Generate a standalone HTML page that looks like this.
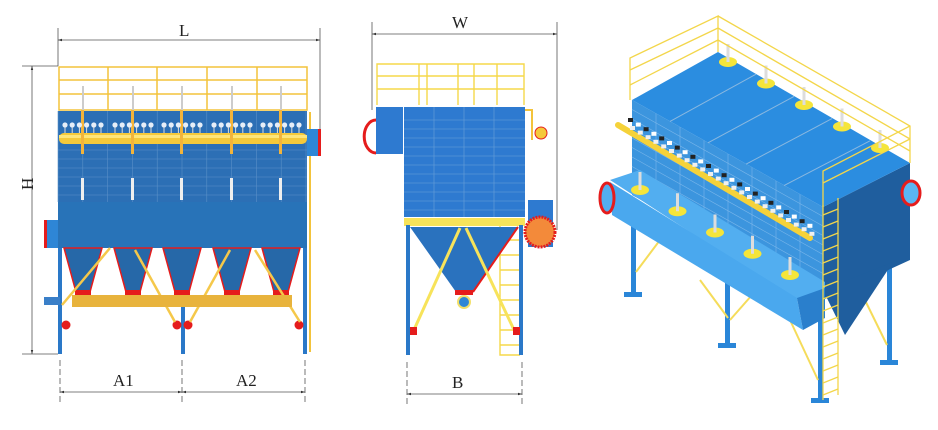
<!DOCTYPE html>
<html><head><meta charset="utf-8"><style>
html,body{margin:0;padding:0;background:#fff;width:938px;height:430px;overflow:hidden}
svg{display:block}
text{font-family:"Liberation Serif",serif;font-size:17px;fill:#222}
</style></head><body>
<svg id="s" width="938" height="430" viewBox="0 0 938 430" xmlns="http://www.w3.org/2000/svg">
<defs>
<marker id="ar" viewBox="0 0 10 10" refX="10" refY="5" markerWidth="8" markerHeight="5" orient="auto-start-reverse"><path d="M0,2 L10,5 L0,8 z" fill="#333"/></marker>
</defs>
<g stroke="#555" stroke-width="0.8" fill="none">
<line x1="58" y1="28" x2="58" y2="66"/><line x1="320" y1="28" x2="320" y2="150"/>
<line x1="58" y1="40" x2="320" y2="40" marker-start="url(#ar)" marker-end="url(#ar)"/>
<line x1="22" y1="66" x2="58" y2="66"/><line x1="22" y1="354" x2="58" y2="354"/>
<line x1="32" y1="66" x2="32" y2="354" marker-start="url(#ar)" marker-end="url(#ar)"/>
<line x1="60" y1="360" x2="60" y2="403" stroke-dasharray="6,3"/>
<line x1="182" y1="360" x2="182" y2="403" stroke-dasharray="6,3"/>
<line x1="305" y1="360" x2="305" y2="403" stroke-dasharray="6,3"/>
<line x1="60" y1="392" x2="182" y2="392" marker-start="url(#ar)" marker-end="url(#ar)"/>
<line x1="182" y1="392" x2="305" y2="392" marker-start="url(#ar)" marker-end="url(#ar)"/>
</g>
<text x="179" y="36">L</text>
<text x="27" y="196" transform="rotate(-90 27 190)">H</text>
<text x="113" y="386">A1</text>
<text x="236" y="386">A2</text>
<g fill="#2a78c8"><rect x="58" y="245" width="4" height="109"/><rect x="181" y="245" width="4" height="109"/><rect x="303" y="245" width="4" height="109"/></g>
<line x1="310" y1="112" x2="310" y2="352" stroke="#f3c33b" stroke-width="2"/>
<g stroke="#f3c33b" stroke-width="1.5" fill="none">
<rect x="59" y="67" width="248" height="43"/><line x1="59" y1="80" x2="307" y2="80"/><line x1="59" y1="94" x2="307" y2="94"/>
<line x1="108" y1="67" x2="108" y2="110"/><line x1="157" y1="67" x2="157" y2="110"/><line x1="207" y1="67" x2="207" y2="110"/><line x1="257" y1="67" x2="257" y2="110"/>
</g>
<rect x="58" y="111" width="249" height="91" fill="#2c6fb5"/>
<g stroke="#5a90c8" stroke-width="0.6" id="gl"></g>
<rect x="59" y="133" width="248" height="11" rx="5" fill="#f5c93a"/>
<rect x="59" y="135" width="248" height="3" fill="#fde57a"/>
<rect x="58" y="202" width="249" height="46" fill="#2873b8"/>
<rect x="46" y="220" width="12" height="28" fill="#2e86d6"/><rect x="44" y="220" width="3" height="28" fill="#e51c1c"/>
<rect x="307" y="129" width="12" height="27" fill="#2e86d6"/><rect x="318" y="129" width="3" height="27" fill="#e51c1c"/>
<g id="lv"></g>
<rect x="72" y="295" width="220" height="12" fill="#e8b33c"/>
<rect x="44" y="297" width="16" height="8" fill="#3a7fc8"/>
<g stroke="#555" stroke-width="0.8" fill="none">
<line x1="372" y1="22" x2="372" y2="110"/><line x1="557" y1="22" x2="557" y2="230"/>
<line x1="372" y1="34" x2="557" y2="34" marker-start="url(#ar)" marker-end="url(#ar)"/>
<line x1="407" y1="362" x2="407" y2="405" stroke-dasharray="6,3"/><line x1="522" y1="362" x2="522" y2="405" stroke-dasharray="6,3"/>
<line x1="407" y1="394" x2="522" y2="394" marker-start="url(#ar)" marker-end="url(#ar)"/>
</g>
<text x="452" y="28">W</text>
<text x="452" y="388">B</text>
<g stroke="#f5d84a" stroke-width="1.4" fill="none">
<path d="M377,105 V64 H524 V105"/><line x1="377" y1="76" x2="524" y2="76"/><line x1="377" y1="89" x2="524" y2="89"/>
<line x1="419" y1="64" x2="419" y2="105"/><line x1="427" y1="64" x2="427" y2="105"/><line x1="458" y1="64" x2="458" y2="105"/><line x1="474" y1="64" x2="474" y2="105"/><line x1="497" y1="64" x2="497" y2="105"/>
<path d="M500,225 V355 H520 M500,240 H520 M500,255 H520 M500,270 H520 M500,285 H520 M500,300 H520 M500,315 H520 M500,330 H520 M500,345 H520"/>
</g>
<rect x="404" y="107" width="121" height="110" fill="#2e7ad0"/>
<g id="mg" stroke="#6aa0d8" stroke-width="0.6"></g>
<rect x="376" y="107" width="27" height="47" fill="#2e7ad0"/>
<path d="M376,120 A10,14 0 0 0 376,153" fill="none" stroke="#e51c1c" stroke-width="3"/>
<rect x="528" y="200" width="25" height="47" fill="#2e7ad0"/>
<circle cx="540" cy="232" r="15" fill="#f38a3a" stroke="#e51c1c" stroke-width="3" stroke-dasharray="2,1"/>
<circle cx="541" cy="133" r="6" fill="#f5c93a" stroke="#e51c1c" stroke-width="1"/>
<path d="M525,110 H532 V140" stroke="#f3c33b" stroke-width="2" fill="none"/>
<rect x="404" y="218" width="121" height="8" fill="#f7e35a"/>
<polygon points="410,227 518,227 473,292 456,292" fill="#2a72be"/>
<line x1="518" y1="227" x2="473" y2="292" stroke="#e51c1c" stroke-width="2"/>
<rect x="455" y="290" width="18" height="5" fill="#e51c1c"/>
<circle cx="464" cy="302" r="6" fill="#2e86d6" stroke="#f3e06a" stroke-width="2"/>
<rect x="406" y="225" width="4" height="130" fill="#2a78c8"/><rect x="519" y="225" width="4" height="130" fill="#2a78c8"/>
<g stroke="#f7e35a" stroke-width="3"><line x1="460" y1="228" x2="413" y2="332"/><line x1="466" y1="228" x2="515" y2="332"/></g>
<rect x="410" y="327" width="7" height="8" fill="#e51c1c"/><rect x="513" y="327" width="7" height="8" fill="#e51c1c"/>
<g id="iso">
<g fill="#2a86d8"><rect x="631" y="220" width="5" height="75"/><rect x="725" y="280" width="5" height="66"/><rect x="818" y="300" width="5" height="100"/><rect x="887" y="255" width="5" height="108"/></g>
<g fill="#2a86d8"><rect x="624" y="292" width="18" height="5"/><rect x="718" y="343" width="18" height="5"/><rect x="811" y="398" width="18" height="5"/><rect x="880" y="360" width="18" height="5"/></g>
<g stroke="#f5dc5a" stroke-width="2"><line x1="636" y1="272" x2="660" y2="240"/><line x1="730" y1="320" x2="752" y2="295"/><line x1="818" y1="380" x2="790" y2="320"/><line x1="887" y1="345" x2="860" y2="290"/><line x1="700" y1="280" x2="728" y2="318"/></g>
<polygon points="823,207 910,163 910,260 823,300" fill="#1f5e9e"/>
<polygon points="823,290 893,262 845,335" fill="#1f5e9e"/>
<polygon points="632,100 823,207 823,300 632,195" fill="#3c95de"/>
<g id="fg" stroke="#79b6ea" stroke-width="0.6"></g>
<polygon points="610,180 640,170 825,282 825,290 795,300" fill="#52aef0"/>
<polygon points="610,182 797,298 803,330 612,215" fill="#4aa8ee"/>
<polygon points="797,298 825,288 825,318 803,330" fill="#2a7fcc"/>
<ellipse cx="607" cy="198" rx="7" ry="15" fill="#52aef0" stroke="#e51c1c" stroke-width="3"/>
<ellipse cx="911" cy="193" rx="9" ry="12" fill="#5ab6f4" stroke="#e51c1c" stroke-width="3"/>
<polygon points="632,100 718,52 910,163 823,207" fill="#2b8de0"/>
<line x1="618" y1="125" x2="810" y2="238" stroke="#f5d23a" stroke-width="6" stroke-linecap="round"/>
<g id="isoA"></g>
<g stroke="#f3d64a" stroke-width="1.3" fill="none">
<path d="M630,100 L630,58 L718,16 L718,52"/><path d="M630,70 L718,28"/><path d="M630,85 L718,40"/>
<path d="M718,16 L910,126 L910,163"/><path d="M718,28 L910,139"/><path d="M718,40 L910,151"/>
<path d="M910,126 L823,171 L823,207"/><path d="M823,183 L910,139"/>
</g>
<g stroke="#f3d64a" stroke-width="1.3" fill="none" id="lad"><line x1="823" y1="205" x2="823" y2="400"/><line x1="838" y1="198" x2="838" y2="395"/></g>
</g>
</svg>
<script>
var NS="http://www.w3.org/2000/svg";
function el(p,t,a){var e=document.createElementNS(NS,t);for(var k in a)e.setAttribute(k,a[k]);document.getElementById(p).appendChild(e);return e;}
for(var y=150;y<202;y+=9)el('gl','line',{x1:58,y1:y,x2:307,y2:y});
for(var x=58;x<307;x+=24.8)el('gl','line',{x1:x,y1:111,x2:x,y2:202});
var cs=[83,133,182,232,281];
cs.forEach(function(c,i){
 el('lv','polygon',{points:(c-19)+',248 '+(c+19)+',248 '+(c+7)+',292 '+(c-7)+',292',fill:'#2668a8',stroke:'#e51c1c','stroke-width':1.5});
 el('lv','rect',{x:c-8,y:290,width:16,height:5,fill:'#e51c1c'});
 el('lv','rect',{x:c-1,y:86,width:2,height:24,fill:'#ccc'});
 el('lv','rect',{x:c-2,y:178,width:3,height:22,fill:'#eee'});
 el('lv','rect',{x:c-2,y:110,width:3,height:44,fill:'#f3b43b'});
 for(var j=0;j<6;j++){var xx=c-18+j*7.2;el('lv','circle',{cx:xx,cy:125,r:2.6,fill:'#e6eef8'});el('lv','rect',{x:xx-0.5,y:127,width:1,height:6,fill:'#ddd'});}
});
[[66,325],[177,325],[188,325],[299,325]].forEach(function(p){el('lv','circle',{cx:p[0],cy:p[1],r:4.5,fill:'#e51c1c'});});
[[62,305,110,248],[175,322,135,250],[190,322,230,250],[300,322,255,250]].forEach(function(l){el('lv','line',{x1:l[0],y1:l[1],x2:l[2],y2:l[3],stroke:'#f5c84a','stroke-width':2.5});});
for(var y=120;y<217;y+=9)el('mg','line',{x1:404,y1:y,x2:525,y2:y});
[434,464,494].forEach(function(x){el('mg','line',{x1:x,y1:107,x2:x,y2:217});});
for(var k=1;k<10;k++){el('fg','line',{x1:632,y1:100+k*9.5,x2:823,y2:207+k*9.5});}
for(var k=1;k<8;k++){var x=632+k*24;el('fg','line',{x1:x,y1:100+k*13.4,x2:x,y2:195+k*13.4});}
for(var i=0;i<5;i++){
 var t=i/4;
 var x=728+t*(880-728),y=62+t*(148-62);
 el('isoA','ellipse',{cx:x,cy:y,rx:9,ry:5,fill:'#f5e53a'});
 el('isoA','rect',{x:x-1.5,y:y-18,width:3,height:18,fill:'#ddd'});
 var x2=640+t*(790-640),y2=190+t*(275-190);
 el('isoA','ellipse',{cx:x2,cy:y2,rx:9,ry:5,fill:'#f5e53a'});
 el('isoA','rect',{x:x2-1.5,y:y2-18,width:3,height:18,fill:'#ddd'});
}
for(var k=0;k<24;k++){var x=628+k*7.8,y=118+k*4.6;el('isoA','rect',{x:x,y:y,width:5,height:4,fill:(k%2?'#fff':'#222')});el('isoA','rect',{x:x+2,y:y+8,width:5,height:4,fill:'#f0f0f0'});}
for(var k=1;k<5;k++){el('isoA','line',{x1:632+k*38,y1:100+k*21.4,x2:718+k*38,y2:52+k*22.2,stroke:'#8ab8e0','stroke-width':1});}
for(var y=215;y<400;y+=12)el('lad','line',{x1:823,y1:y,x2:838,y2:y-6});
</script>
</body></html>
